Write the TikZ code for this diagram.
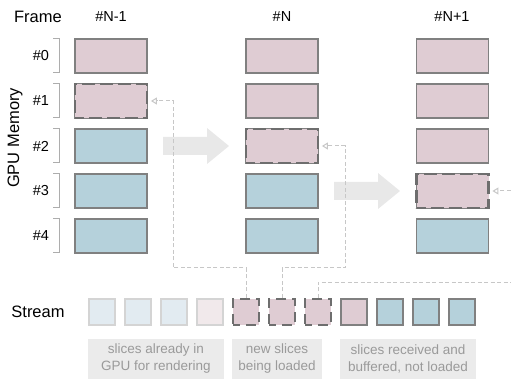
\documentclass[tikz,border=0pt]{standalone}
\usepackage{fontspec}
\setmainfont{Liberation Sans}
\usetikzlibrary{positioning,calc,arrows.meta}

\definecolor{slicepink}{HTML}{DFCCD3}
\definecolor{sliceblue}{HTML}{B5D1DB}
\definecolor{fadepink}{HTML}{F1E9EB}
\definecolor{fadeblue}{HTML}{E2EBF1}
\definecolor{edgegray}{HTML}{808080}
\definecolor{dashgray}{HTML}{6E6E6E}
\definecolor{capfill}{HTML}{EBEBEB}
\definecolor{captext}{HTML}{9A9A9A}

\tikzset{
  membox/.style={draw=edgegray, line width=1.8pt, minimum width=72pt, minimum height=34pt, inner sep=0pt},
  loading/.style={draw=dashgray, dash pattern=on 13pt off 5pt, dash phase=4pt, line width=2.4pt},
  streamload/.style={draw=dashgray, dash pattern=on 10pt off 6pt, dash phase=3pt, line width=2.4pt},
  slot/.style={draw=edgegray, line width=1.8pt, minimum width=26pt, minimum height=26pt, inner sep=0pt},
  faded/.style={draw=black!17},
  feed/.style={draw=black!22, line width=1pt, dash pattern=on 4pt off 2.5pt, -{Triangle[open, length=6pt, width=7pt]}, shorten >=3pt},
  caption/.style={fill=capfill, text=captext, font=\fontsize{13.5}{17}\selectfont, align=center, inner sep=0pt, minimum height=40pt},
  bracket/.style={draw=black!32, line width=1pt},
  bigarrow/.style={fill=black!9},
}

\begin{document}
\begin{tikzpicture}[x=1pt, y=-1pt]
    \useasboundingbox (0,0) rectangle (511,379);

    % Headings
    \node[font=\fontsize{16.5}{18}\selectfont] (frame) at (38,17) {Frame};
    \node[font=\fontsize{14.5}{16}\selectfont] (hprev) at (111,17) {\#N-1};
    \node[font=\fontsize{14.5}{16}\selectfont] (hcur) at (282,17) {\#N};
    \node[font=\fontsize{14.5}{16}\selectfont] (hnext) at (452,17) {\#N+1};
    \node[font=\fontsize{16.5}{18}\selectfont, rotate=90] (gpu) at (15,138) {GPU Memory};

    % Slot labels with brackets
    \foreach \i/\y in {0/56, 1/101, 2/146, 3/191, 4/236} {
        \node[font=\fontsize{14.5}{16}\selectfont] (lbl\i) at (41,\y) {\#\i};
        \draw[bracket] (53,\y-17) -- (59.5,\y-17) -- (59.5,\y+17) -- (53,\y+17);
    }

    % Memory contents per frame
    \foreach \col/\x in {prev/111, cur/282, next/452.5} {
        \foreach \i/\y in {0/56, 1/101, 2/146, 3/191, 4/236} {
            \node[membox, fill=sliceblue] (\col\i) at (\x,\y) {};
        }
    }
    \node[membox, fill=slicepink] at (prev0) {};
    \node[membox, fill=slicepink, loading] at (prev1) {};
    \node[membox, fill=slicepink] at (cur0) {};
    \node[membox, fill=slicepink] at (cur1) {};
    \node[membox, fill=slicepink, loading] at (cur2) {};
    \node[membox, fill=slicepink] at (next0) {};
    \node[membox, fill=slicepink] at (next1) {};
    \node[membox, fill=slicepink] at (next2) {};
    \node[membox, fill=slicepink, loading] at (next3) {};

    % Frame to frame arrows
    \fill[bigarrow] (163,137) -- (207,137) -- (207,128) -- (229,146) -- (207,164) -- (207,155) -- (163,155) -- cycle;
    \fill[bigarrow] (334,182) -- (378,182) -- (378,173) -- (400,191) -- (378,209) -- (378,200) -- (334,200) -- cycle;

    % Stream of slices
    \node[font=\fontsize{16.5}{18}\selectfont] (stream) at (38,312) {Stream};
    \foreach \n/\x/\c/\s in {1/102/fadeblue/faded, 2/138/fadeblue/faded, 3/174/fadeblue/faded, 4/210/fadepink/faded,
                             5/246/slicepink/streamload, 6/282/slicepink/streamload, 7/318/slicepink/streamload,
                             8/354/slicepink/slot, 9/390/sliceblue/slot, 10/426/sliceblue/slot, 11/462/sliceblue/slot} {
        \node[slot, fill=\c, \s] (s\n) at (\x,312) {};
    }

    % Loading paths
    \draw[feed] (s5.north) |- (173,268) |- (prev1.east);
    \draw[feed] (s6.north) |- (345,268) |- (cur2.east);
    \draw[feed] (s7.north) |- (530,282) |- (next3.east);

    % Captions
    \node[caption, minimum width=136pt] (cap1) at (156,359) {slices already in\\GPU for rendering};
    \node[caption, minimum width=90pt] (cap2) at (277,359) {new slices\\being loaded};
    \node[caption, minimum width=136pt] (cap3) at (408,359) {slices received and\\buffered, not loaded};
\end{tikzpicture}
\end{document}
